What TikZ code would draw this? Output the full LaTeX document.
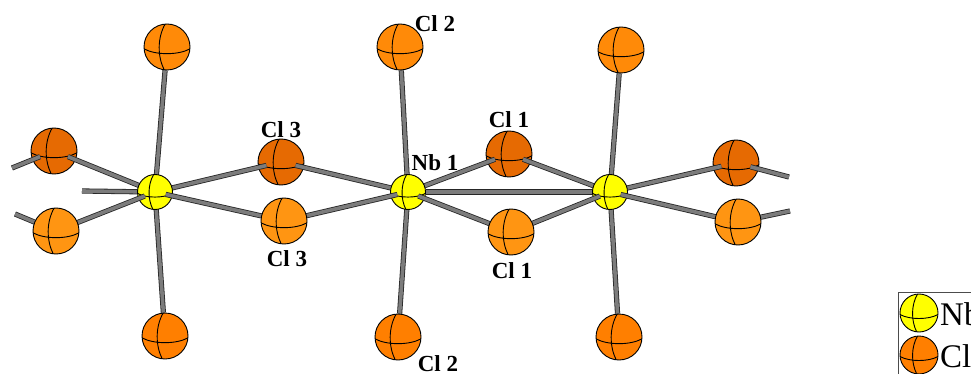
\documentclass[tikz,border=0pt]{standalone}
\usepackage{fontspec}
\setmainfont{Liberation Serif}
\definecolor{nbyellow}{HTML}{FFFF00}
\definecolor{cldark}{HTML}{E66A02}
\definecolor{cllight}{HTML}{FF9512}
\definecolor{claxial}{HTML}{FF8A08}
\definecolor{clkey}{HTML}{FF7F00}
\definecolor{bondgray}{HTML}{7C7C7C}
\pgfdeclarelayer{ballback}
\pgfdeclarelayer{bondback}
\pgfdeclarelayer{ballmid}
\pgfdeclarelayer{bondfront}
\pgfsetlayers{ballback,bondback,ballmid,bondfront,main}
\begin{document}
\begin{tikzpicture}[x=1pt,y=-1pt,
    ball/.style={shape=circle, draw=black, line width=0.9pt, inner sep=0pt,
      minimum size=#1, path picture={
        \draw[line width=0.9pt, x=#1/2, y=-#1/2, shift={(path picture bounding box.center)}]
          (-1,0.08) .. controls (-0.5,0.36) and (0.5,0.36) .. (1,0.08)
          (-0.08,-1) .. controls (-0.42,-0.4) and (-0.42,0.4) .. (-0.12,1);}},
    bond/.style={draw=black!85, line width=0.8pt, double=bondgray, double distance=3.6pt},
    lab/.style={font=\bfseries\fontsize{23}{23}\selectfont, inner sep=0pt},
    keytext/.style={font=\fontsize{33}{33}\selectfont, inner sep=0pt, anchor=base west}]
  \useasboundingbox (0,0) rectangle (971,374);
  \coordinate (endA) at (12,168);
  \coordinate (endB) at (15,214);
  \coordinate (endC) at (82,191);
  \coordinate (endD) at (789,177);
  \coordinate (endE) at (790,211);
  \begin{pgfonlayer}{ballback}
    \foreach \name/\pos in {da/{54,151}, db/{281,162}, dc/{509,154}, dd/{736,163}}
      \node[ball=46pt, fill=cldark] (\name) at (\pos) {};
  \end{pgfonlayer}
  \begin{pgfonlayer}{ballmid}
    \foreach \name/\pos in {nba/{155,192}, nbb/{408,192}, nbc/{610,192}}
      \node[ball=35pt, fill=nbyellow] (\name) at (\pos) {};
  \end{pgfonlayer}
  \foreach \name/\pos in {la/{56,231}, lb/{284,221}, lc/{511,232}, ld/{738,222}}
    \node[ball=46pt, fill=cllight] (\name) at (\pos) {};
  \foreach \name/\pos in {ta/{167,47}, tb/{400,47}, tc/{621,50}}
    \node[ball=46pt, fill=claxial] (\name) at (\pos) {};
  \foreach \name/\pos in {ba/{165,336}, bb/{398,337}, bc/{619,337}}
    \node[ball=46pt, fill=clkey] (\name) at (\pos) {};
  % bonds
  \begin{pgfonlayer}{bondback}
    \foreach \a/\b in {da/endA, da/nba.center, db/nba.center, db/nbb.center, dc/nbb.center,
        dc/nbc.center, dd/nbc.center, dd/endD}
      \draw[bond, shorten <=15pt] (\a.center) -- (\b);
    \foreach \a/\b in {endC/nba, nbb/nbc, ta/nba, tb/nbb, tc/nbc, ba/nba, bb/nbb, bc/nbc}
      \draw[bond] (\a) -- (\b.center);
    \draw[bond] (endB) -- (la.center);
    \draw[bond] (endE) -- (ld.center);
  \end{pgfonlayer}
  \begin{pgfonlayer}{bondfront}
    \foreach \a/\b in {la/nba, lb/nba, lb/nbb, lc/nbb, lc/nbc, ld/nbc}
      \draw[bond, shorten >=11pt] (\a.center) -- (\b.center);
  \end{pgfonlayer}
  % labels
  \node[lab] (labA) at (435,24) {Cl 2};
  \node[lab] (labB) at (281,130) {Cl 3};
  \node[lab] (labC) at (435,163) {Nb 1};
  \node[lab] (labD) at (509,120) {Cl 1};
  \node[lab] (labE) at (287,259) {Cl 3};
  \node[lab] (labF) at (512,271) {Cl 1};
  \node[lab] (labG) at (438,364) {Cl 2};
  % key
  \draw[line width=0.8pt, draw=black!70] (898,392) -- (898,292) -- (990,292);
  \node[ball=38pt, fill=nbyellow] (keyNb) at (919,313) {};
  \node[ball=38pt, fill=clkey] (keyCl) at (919,355) {};
  \node[keytext] (txtNb) at (940,325) {Nb};
  \node[keytext] (txtCl) at (940,367) {Cl};
\end{tikzpicture}
\end{document}
